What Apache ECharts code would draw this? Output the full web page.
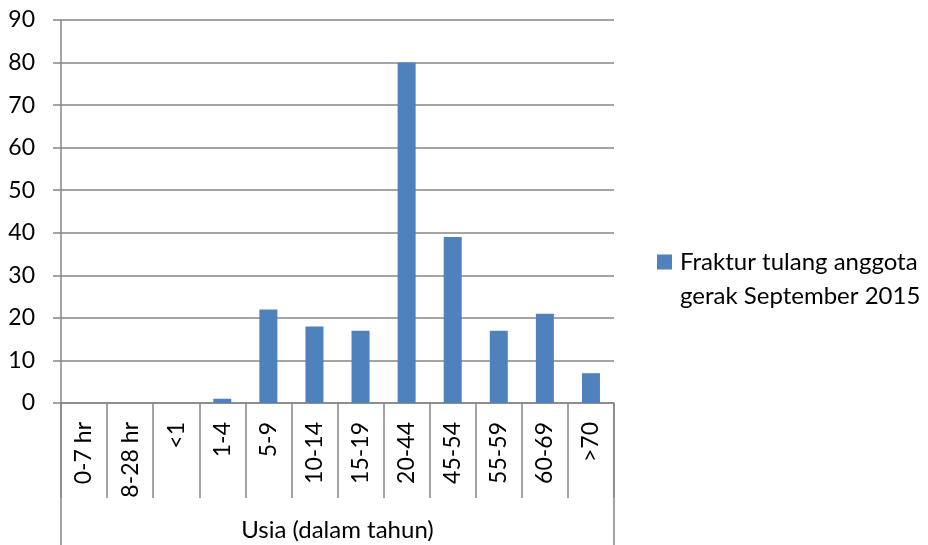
<!DOCTYPE html>
<html>
<head>
<meta charset="utf-8">
<script src="https://cdn.jsdelivr.net/npm/echarts@6/dist/echarts.min.js"></script>
<style>
    html, body { margin: 0; padding: 0; background: #fff; }
    #chart { width: 928px; height: 545px; }
</style>
</head>
<body>
<div id="chart"></div>
<script>
    // data
    const ageGroups = ['0-7 hr', '8-28 hr', '<1', '1-4', '5-9', '10-14', '15-19', '20-44', '45-54', '55-59', '60-69', '>70']
    const fractureCounts = [0, 0, 0, 1, 22, 18, 17, 80, 39, 17, 21, 7]
    const seriesName = 'Fraktur tulang anggota\ngerak September 2015'
    const xTitle = 'Usia (dalam tahun)'

    const font = 'Lato, "Open Sans", sans-serif'
    const lineColor = '#868686'
    const gridLeft = 61, gridTop = 20, gridRight = 314, gridBottom = 142
    const W = 928, H = 545
    const plotRight = W - gridRight, plotBottom = H - gridBottom

    let chart = echarts.init(document.getElementById('chart'))
    let option = {
        animation: false,
        textStyle: { fontFamily: font },
        grid: { left: gridLeft, top: gridTop, right: gridRight, bottom: gridBottom, outerBoundsMode: 'none' },
        legend: {
            data: [seriesName],
            orient: 'vertical',
            left: 657,
            top: 245,
            padding: 0,
            itemWidth: 15,
            itemHeight: 49,
            // square sits beside the first line of the two-line name
            icon: 'path://M0,0H15V15H0Z M0,49H15',
            textStyle: { fontFamily: font, fontSize: 24, color: '#000', lineHeight: 34, padding: [0, 0, 0, 3] }
        },
        xAxis: {
            type: 'category',
            data: ageGroups,
            name: xTitle,
            nameLocation: 'middle',
            nameGap: 115,
            nameTextStyle: { fontSize: 24, color: '#000' },
            axisLine: { lineStyle: { color: lineColor, width: 1.5 } },
            axisTick: { show: true, interval: 0, length: 95, lineStyle: { color: lineColor, width: 1.5 } },
            axisLabel: { rotate: 90, margin: 19, fontSize: 23, color: '#000', interval: 0 }
        },
        yAxis: {
            type: 'value',
            min: 0,
            max: 90,
            interval: 10,
            axisLine: { show: true, lineStyle: { color: lineColor, width: 1.5 } },
            axisTick: { show: true, length: 8, lineStyle: { color: lineColor, width: 1.5 } },
            axisLabel: { margin: 26, fontSize: 23, color: '#000' },
            splitLine: { lineStyle: { color: lineColor, width: 1.5 } }
        },
        series: [
            {
                name: seriesName,
                type: 'bar',
                data: fractureCounts,
                barWidth: 18,
                itemStyle: { color: '#4F81BD' }
            }
        ],
        graphic: [
            { type: 'line', shape: { x1: gridLeft, y1: plotBottom, x2: gridLeft, y2: H }, style: { stroke: lineColor, lineWidth: 1.5 } },
            { type: 'line', shape: { x1: plotRight, y1: plotBottom, x2: plotRight, y2: H }, style: { stroke: lineColor, lineWidth: 1.5 } }
        ]
    }
    chart.setOption(option)
</script>
</body>
</html>
